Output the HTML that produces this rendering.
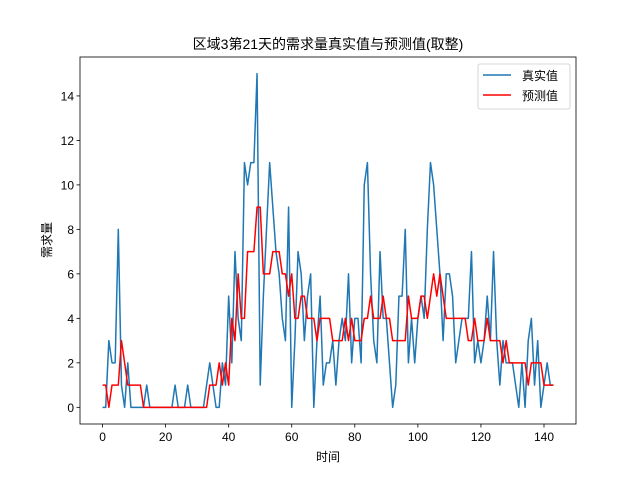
<!DOCTYPE html>
<html><head><meta charset="utf-8">
<style>
body{margin:0;background:#fff;}
svg text{font-family:"Liberation Sans","Noto Sans CJK SC",sans-serif;}
</style></head>
<body>
<svg id="chart" width="640" height="476" xmlns="http://www.w3.org/2000/svg">
<rect x="0" y="0" width="640" height="476" fill="#fff"/>
<g id="plot"></g>
</svg>
<script>
const actual = [0,0,3,2,2,8,1,0,2,0,0,0,0,0,1,0,0,0,0,0,0,0,0,1,0,0,0,1,0,0,0,0,0,1,2,1,0,0,2,1,5,2,7,4,3,11,10,11,11,15,1,5,8,11,9,7,6,4,3,9,0,3,7,6,3,5,6,0,3,5,1,2,2,3,1,3,4,3,6,2,4,4,2,10,11,6,3,2,7,4,4,2,0,1,5,5,8,2,4,2,4,5,4,8,11,10,8,6,3,6,6,5,2,3,4,4,4,7,2,3,2,3,5,3,7,3,1,3,2,2,2,1,0,2,0,3,4,1,3,0,1,2,1,1];
const predicted = [1,1,0,1,1,1,3,2,1,1,1,1,1,0,0,0,0,0,0,0,0,0,0,0,0,0,0,0,0,0,0,0,0,0,1,1,1,2,1,2,1,4,3,6,4,4,7,7,7,9,9,6,6,6,7,7,7,6,6,5,6,4,4,5,5,4,4,4,3,4,4,4,4,3,3,3,3,4,3,4,3,3,3,4,4,5,4,4,4,5,4,4,3,3,3,3,3,5,4,4,4,5,5,4,5,6,5,6,5,4,4,4,4,4,4,4,3,3,4,3,3,3,4,3,3,3,3,2,3,2,2,2,2,2,2,1,2,2,2,2,1,1,1,1];
const xTicks = [0,20,40,60,80,100,120,140];
const yTicks = [0,2,4,6,8,10,12,14];

const L=80,R=576,T=57,B=424;
const n=actual.length;
const xmin=-(n-1)*0.05, xmax=(n-1)*1.05;
const allv=actual.concat(predicted);
const vmax=Math.max(...allv), vmin=Math.min(...allv);
const ymin=vmin-(vmax-vmin)*0.05, ymax=vmax+(vmax-vmin)*0.05;
const sx=v=>L+(v-xmin)/(xmax-xmin)*(R-L);
const sy=v=>B-(v-ymin)/(ymax-ymin)*(B-T);
const NS="http://www.w3.org/2000/svg";
const svg=document.getElementById('chart');
function mk(tag,attrs,parent){const e=document.createElementNS(NS,tag);for(const k in attrs)e.setAttribute(k,attrs[k]);(parent||svg).appendChild(e);return e;}

function line(data,color,name){
  const p=mk('polyline',{points:data.map((v,i)=>sx(i).toFixed(2)+','+sy(v).toFixed(2)).join(' '),fill:'none',stroke:color,'stroke-width':1.5,'stroke-linejoin':'round'});
  
  
}
line(actual,'#1f77b4','actual-series-line');
line(predicted,'#ff0000','predicted-series-line');

const frame=mk('rect',{x:L,y:T,width:R-L,height:B-T,fill:'none',stroke:'#000','stroke-width':0.8});



xTicks.forEach(t=>{
  const x=sx(t);
  const tk=mk('line',{x1:x,x2:x,y1:B,y2:B+3.5,stroke:'#000','stroke-width':0.8});
  
  
  const tx=mk('text',{x:x,y:B+17,'text-anchor':'middle','font-size':12});
  tx.textContent=t;
  
  
});
yTicks.forEach(t=>{
  const y=sy(t);
  const tk=mk('line',{x1:L-3.5,x2:L,y1:y,y2:y,stroke:'#000','stroke-width':0.8});
  
  
  const tx=mk('text',{x:L-6,y:y+4.5,'text-anchor':'end','font-size':12});
  tx.textContent=t;
  
  
});
</script>
<svg style="position:absolute;left:0;top:0" width="640" height="476" xmlns="http://www.w3.org/2000/svg">
<text x="328" y="49" text-anchor="middle" font-size="14" font-family="Liberation Sans, Noto Sans CJK SC, sans-serif">区域3第21天的需求量真实值与预测值(取整)</text>
<text x="328" y="461" text-anchor="middle" font-size="12" font-family="Liberation Sans, Noto Sans CJK SC, sans-serif">时间</text>
<text transform="translate(51,240) rotate(-90)" text-anchor="middle" font-size="12" font-family="Liberation Sans, Noto Sans CJK SC, sans-serif">需求量</text>
<g>
<rect x="478" y="64" width="92" height="45" rx="2" fill="#fff" fill-opacity="0.8" stroke="#ccc" stroke-width="0.8"/>
<line x1="483" x2="511" y1="75" y2="75" stroke="#1f77b4" stroke-width="1.5"/>
<text x="522" y="80" font-size="12" font-family="Liberation Sans, Noto Sans CJK SC, sans-serif">真实值</text>
<line x1="483" x2="511" y1="95" y2="95" stroke="#ff0000" stroke-width="1.5"/>
<text x="522" y="100" font-size="12" font-family="Liberation Sans, Noto Sans CJK SC, sans-serif">预测值</text>
</g>
</svg>
</body></html>
